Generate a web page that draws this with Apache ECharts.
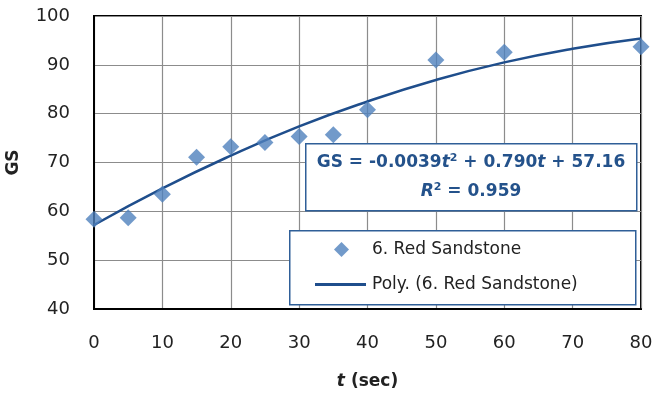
<!DOCTYPE html>
<html><head><meta charset="utf-8">
<script src="https://cdn.jsdelivr.net/npm/echarts@6/dist/echarts.min.js"></script>
<style>html,body{margin:0;padding:0;background:#fff}#c{width:657px;height:396px}</style>
</head><body><div id="c"></div>
<script>
var tValues = [0, 5, 10, 15, 20, 25, 30, 35, 40, 50, 60, 80];
var gsValues = [58.4, 58.7, 63.5, 71.1, 73.2, 74.1, 75.3, 75.7, 80.8, 91.0, 92.6, 93.7];
var trendT = [0, 10, 20, 30, 40, 50, 60, 70, 80];
var trendGS = [57.2, 64.7, 71.4, 77.4, 82.5, 86.9, 90.5, 93.3, 95.4];
var seriesName = '6. Red Sandstone';
var trendName = 'Poly. (6. Red Sandstone)';
var yTitle = 'GS';

var font = '"DejaVu Sans", sans-serif';
var fs = 17;
var eqColor = '#24528b';
var chart = echarts.init(document.getElementById('c'));
chart.setOption({
  animation: false,
  backgroundColor: '#fff',
  grid: {left: 94, top: 16, right: 16, bottom: 87, show: true, borderColor: '#000', borderWidth: 2,
    containLabel: false, outerBoundsMode: 'none'},
  xAxis: {
    type: 'value', min: 0, max: 80, interval: 10,
    axisLine: {show: true, lineStyle: {color: '#000', width: 2}},
    axisTick: {show: false},
    splitLine: {show: true, lineStyle: {color: '#8c8c8c', width: 1.2}},
    axisLabel: {color: '#222', fontSize: 18, fontFamily: font, margin: 25},
    name: '{it|t} (sec)', nameLocation: 'middle', nameGap: 64,
    nameTextStyle: {color: '#222', fontSize: fs, fontFamily: font, fontWeight: 'bold',
      rich: {it: {fontStyle: 'italic', fontWeight: 'bold', fontSize: fs, fontFamily: font, color: '#222'}}}
  },
  yAxis: {
    type: 'value', min: 40, max: 100, interval: 10,
    axisLine: {show: true, lineStyle: {color: '#000', width: 2}},
    axisTick: {show: false},
    splitLine: {show: true, lineStyle: {color: '#8c8c8c', width: 1.2}},
    axisLabel: {color: '#222', fontSize: 18, fontFamily: font, margin: 24},
    name: yTitle, nameLocation: 'middle', nameGap: 72, nameRotate: 90,
    nameTextStyle: {color: '#222', fontSize: fs, fontFamily: font, fontWeight: 'bold'}
  },
  graphic: [
    {type: 'rect', left: 305, top: 143, z: 10,
      shape: {width: 331, height: 67},
      style: {fill: '#fff', stroke: '#2f5f98', lineWidth: 1.5}},
    {type: 'text', x: 471, y: 163, z: 11,
      style: {
        text: 'GS = -0.0039{it|t}{sup|2} + 0.790{it|t} + 57.16',
        fill: eqColor, font: 'bold ' + fs + 'px ' + font, align: 'center', verticalAlign: 'middle',
        rich: {
          it: {fontStyle: 'italic', fontWeight: 'bold', fill: eqColor, fontSize: fs, fontFamily: font},
          sup: {fontSize: 11, fontWeight: 'bold', fill: eqColor, fontFamily: font, padding: [0, 0, 9, 0]}
        }
      }},
    {type: 'text', x: 471, y: 192, z: 11,
      style: {
        text: '{it|R}{sup|2} = 0.959',
        fill: eqColor, font: 'bold ' + fs + 'px ' + font, align: 'center', verticalAlign: 'middle',
        rich: {
          it: {fontStyle: 'italic', fontWeight: 'bold', fill: eqColor, fontSize: fs, fontFamily: font},
          sup: {fontSize: 11, fontWeight: 'bold', fill: eqColor, fontFamily: font, padding: [0, 0, 9, 0]}
        }
      }},
    {type: 'rect', left: 289, top: 230, z: 10,
      shape: {width: 346, height: 74},
      style: {fill: '#fff', stroke: '#2f5f98', lineWidth: 1.5}}
  ],
  legend: [
    {
      orient: 'vertical', left: 334, top: 241, padding: 0, z: 20,
      itemWidth: 15, itemHeight: 15,
      textStyle: {color: '#222', fontSize: fs, fontFamily: font, padding: [0, 0, 0, 18]},
      data: [{name: seriesName, icon: 'diamond'}]
    },
    {
      orient: 'vertical', left: 315, top: 276, padding: 0, z: 20,
      itemWidth: 51, itemHeight: 3,
      textStyle: {color: '#222', fontSize: fs, fontFamily: font, padding: [0, 0, 0, 1]},
      data: [{name: trendName, icon: 'rect'}]
    }
  ],
  series: [
    {
      name: trendName, type: 'line', smooth: true, symbol: 'none',
      data: trendT.map(function (t, i) { return [t, trendGS[i]]; }),
      lineStyle: {color: '#1f4e8c', width: 2.5}, itemStyle: {color: '#1f4e8c'}, z: 2
    },
    {
      name: seriesName, type: 'scatter', symbol: 'diamond', symbolSize: 17,
      data: tValues.map(function (t, i) { return [t, gsValues[i]]; }),
      itemStyle: {color: '#4f81bd'}, z: 3
    }
  ]
});
</script></body></html>
